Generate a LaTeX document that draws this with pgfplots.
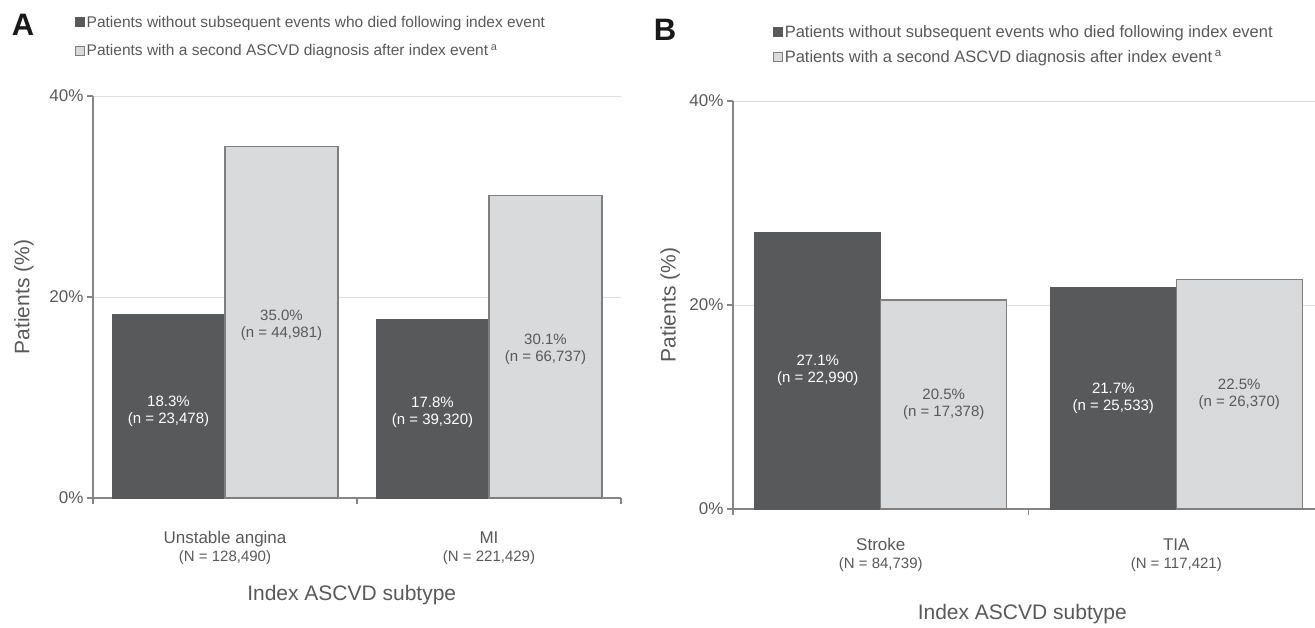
\documentclass[border=0pt]{standalone}
\usepackage{pgfplots}
\pgfplotsset{compat=1.18}
\usepackage{fontspec}
\setmainfont{Liberation Sans}
\definecolor{darkbar}{HTML}{58595B}
\definecolor{lightbar}{HTML}{D9DADC}
\definecolor{lightedge}{HTML}{7F7F7F}
\definecolor{txt}{HTML}{595959}
\definecolor{axline}{HTML}{868686}
\definecolor{gridc}{HTML}{DEDEDE}
\newcommand{\fs}[2]{\fontsize{#1}{#2}\selectfont}
\pgfplotsset{
  panel/.style={
    scale only axis,
    ybar=0pt,
    xmin=-0.5,
    ymin=0, ymax=40,
    axis x line*=bottom, axis y line*=left,
    axis line style={axline, line width=1.3pt},
    tick style={axline, line width=1.3pt},
    tick align=outside,
    major tick length=6pt,
    ymajorgrids, grid style={gridc, line width=1pt},
    ytick={0,20,40}, yticklabels={0\%,20\%,40\%},
    yticklabel style={font=\fs{17}{20}, text=txt},
    xtick={-0.5,0.5,1.5}, xticklabels={{},{},{}},
    extra x ticks={0,1},
    label style={text=txt, font=\fs{21}{24}},
    legend style={draw=none, fill=none, text=txt, inner sep=0pt,
      legend cell align=left, cells={anchor=west}},
    legend image code/.code={\draw[##1, line width=1pt] (0pt,-4.5pt) rectangle (9pt,4.5pt);},
  },
  darkp/.style={fill=darkbar, draw=darkbar, line width=1pt},
  lightp/.style={fill=lightbar, draw=lightedge, line width=1.3pt},
}
\begin{document}
\begin{tikzpicture}[x=1pt,y=1pt]
\useasboundingbox (0pt,0pt) rectangle (1315pt,627pt);
% Panel letters
\node[font=\bfseries\fs{31}{34}, text=black!90] at (23pt,602pt) {A};
\node[font=\bfseries\fs{31}{34}, text=black!90] at (665pt,597pt) {B};

% ---------- Panel A ----------
\begin{axis}[panel,
  at={(93pt,129pt)}, anchor=south west,
  width=528pt, height=402pt,
  xmax=1.5,
  bar width=0.428,
  extra x tick labels={{Unstable angina\\[-1pt]{\fs{15}{17}(N = 128,490)}},{MI\\[-1pt]{\fs{15}{17}(N = 221,429)}}},
  extra x tick style={major tick length=0pt, grid=none,
      tick label style={yshift=-30pt, align=center, text=txt, font=\fs{17}{19}}},
  xlabel={Index ASCVD subtype},
  xlabel style={at={(axis description cs:0.49,-0.241)}, anchor=center},
  ylabel={Patients (\%)},
  ylabel style={at={(axis description cs:-0.131,0.5)}, anchor=center},
  legend style={at={(axis description cs:-0.035,1.205)}, anchor=north west,
    font=\fs{15.5}{18}, row sep=12pt},
]
\addplot[darkp] coordinates {(0,18.3) (1,17.8)};
\addlegendentry{Patients without subsequent events who died following index event}
\addplot[lightp] coordinates {(0,35.0) (1,30.1)};
\addlegendentry{Patients with a second ASCVD diagnosis after index event\,\textsuperscript{a}}
\node[align=center, text=white, font=\fs{15}{17}] at (axis cs:-0.214,8.6) {18.3\%\\(n = 23,478)};
\node[align=center, text=txt, font=\fs{15}{17}] at (axis cs:0.214,17.2) {35.0\%\\(n = 44,981)};
\node[align=center, text=white, font=\fs{15}{17}] at (axis cs:0.786,8.5) {17.8\%\\(n = 39,320)};
\node[align=center, text=txt, font=\fs{15}{17}] at (axis cs:1.214,14.8) {30.1\%\\(n = 66,737)};
\end{axis}

% ---------- Panel B ----------
\begin{axis}[panel,
  at={(733pt,118pt)}, anchor=south west,
  width=582pt, height=408pt,
  xmax=1.4695,
  bar width=0.426,
  extra x tick labels={{Stroke\\[-1pt]{\fs{15}{17}(N = 84,739)}},{TIA\\[-1pt]{\fs{15}{17}(N = 117,421)}}},
  extra x tick style={major tick length=0pt, grid=none,
      tick label style={yshift=-26pt, align=center, text=txt, font=\fs{17}{19}}},
  xlabel={Index ASCVD subtype},
  xlabel style={at={(axis description cs:0.497,-0.257)}, anchor=center},
  ylabel={Patients (\%)},
  ylabel style={at={(axis description cs:-0.108,0.5)}, anchor=center},
  legend style={at={(axis description cs:0.068,1.19)}, anchor=north west,
    font=\fs{16.5}{18}, row sep=7pt},
]
\addplot[darkp] coordinates {(0,27.1) (1,21.7)};
\addlegendentry{Patients without subsequent events who died following index event}
\addplot[lightp] coordinates {(0,20.5) (1,22.5)};
\addlegendentry{Patients with a second ASCVD diagnosis after index event\,\textsuperscript{a}}
\node[align=center, text=white, font=\fs{15}{17}] at (axis cs:-0.213,13.55) {27.1\%\\(n = 22,990)};
\node[align=center, text=txt, font=\fs{15}{17}] at (axis cs:0.213,10.25) {20.5\%\\(n = 17,378)};
\node[align=center, text=white, font=\fs{15}{17}] at (axis cs:0.787,10.85) {21.7\%\\(n = 25,533)};
\node[align=center, text=txt, font=\fs{15}{17}] at (axis cs:1.213,11.25) {22.5\%\\(n = 26,370)};
\end{axis}
\end{tikzpicture}
\end{document}
